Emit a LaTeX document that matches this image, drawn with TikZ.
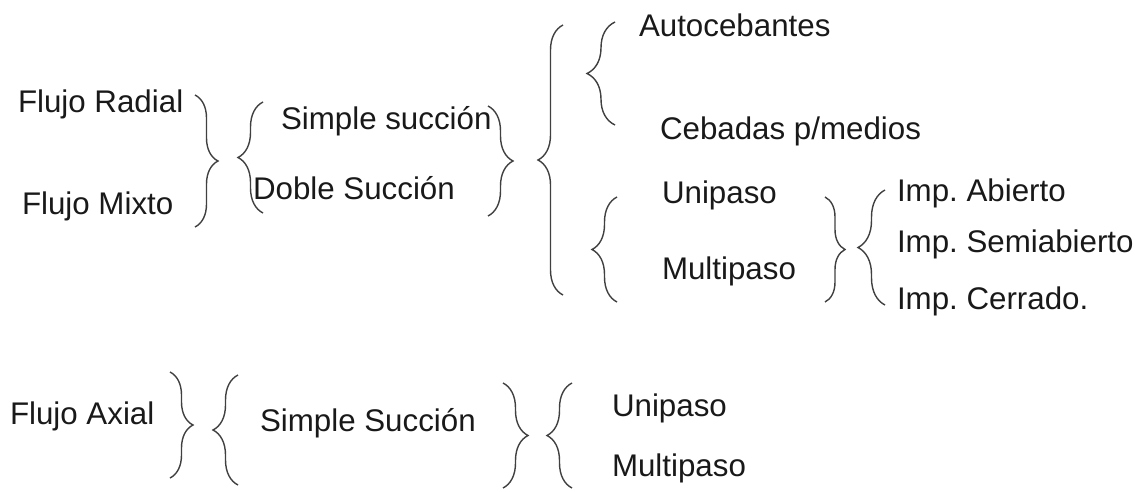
\documentclass[tikz,border=0pt]{standalone}
\usepackage{fontspec}
\setmainfont{Liberation Sans}
\usetikzlibrary{decorations.pathreplacing}
\frenchspacing
\begin{document}
\begin{tikzpicture}[x=1pt,y=-1pt,
  lbl/.style={anchor=base west,inner sep=0pt,outer sep=0pt,text=black!90,font=\fontsize{31.3}{36}\selectfont},
  brc/.style={draw=black!75,line width=1.4pt,decorate,decoration={brace,amplitude=#1}},
  brc/.default=24pt]
\useasboundingbox (0,0) rectangle (1142,491);
% texts
\node[lbl] (fr) at (18,112) {Flujo Radial};
\node[lbl] (fm) at (22,214) {Flujo Mixto};
\node[lbl] (ss) at (281,129) {Simple succión};
\node[lbl] (ds) at (253,199) {Doble Succión};
\node[lbl] (au) at (639,36) {Autocebantes};
\node[lbl] (cb) at (660,139) {Cebadas p/medios};
\node[lbl] (u1) at (662,203) {Unipaso};
\node[lbl] (m1) at (662,279) {Multipaso};
\node[lbl] (ia) at (897,201) {Imp. Abierto};
\node[lbl] (is) at (897,252) {Imp. Semiabierto};
\node[lbl] (ic) at (897,309) {Imp. Cerrado.};
\node[lbl] (fa) at (10,424) {Flujo Axial};
\node[lbl] (sS) at (260,431) {Simple Succión};
\node[lbl] (u2) at (612,416) {Unipaso};
\node[lbl] (m2) at (612,476) {Multipaso};
% brace end points
\coordinate (b1t) at (195,95);  \coordinate (b1b) at (195,227);
\coordinate (b2t) at (263,102); \coordinate (b2b) at (263,213);
\coordinate (b3t) at (488,106); \coordinate (b3b) at (488,216);
\coordinate (b4t) at (563,25);  \coordinate (b4b) at (563,295);
\coordinate (b5t) at (615,22);  \coordinate (b5b) at (615,125);
\coordinate (b6t) at (617,197); \coordinate (b6b) at (617,302);
\coordinate (b7t) at (825,197); \coordinate (b7b) at (825,302);
\coordinate (b8t) at (885,190); \coordinate (b8b) at (885,305);
\coordinate (b9t) at (170,372); \coordinate (b9b) at (170,478);
\coordinate (b10t) at (238,375); \coordinate (b10b) at (238,485);
\coordinate (b11t) at (503,383); \coordinate (b11b) at (503,488);
\coordinate (b12t) at (572,383); \coordinate (b12b) at (572,488);
% right braces: top -> bottom ; left braces: bottom -> top
\draw[brc=23pt] (b1t) -- (b1b);
\draw[brc=25pt] (b2b) -- (b2t);
\draw[brc=25pt] (b3t) -- (b3b);
\draw[brc=25pt] (b4b) -- (b4t);
\draw[brc=28pt] (b5b) -- (b5t);
\draw[brc=25pt] (b6b) -- (b6t);
\draw[brc=20pt] (b7t) -- (b7b);
\draw[brc=27pt] (b8b) -- (b8t);
\draw[brc=23pt] (b9t) -- (b9b);
\draw[brc=25pt] (b10b) -- (b10t);
\draw[brc=25pt] (b11t) -- (b11b);
\draw[brc=25pt] (b12b) -- (b12t);
\end{tikzpicture}
\end{document}
